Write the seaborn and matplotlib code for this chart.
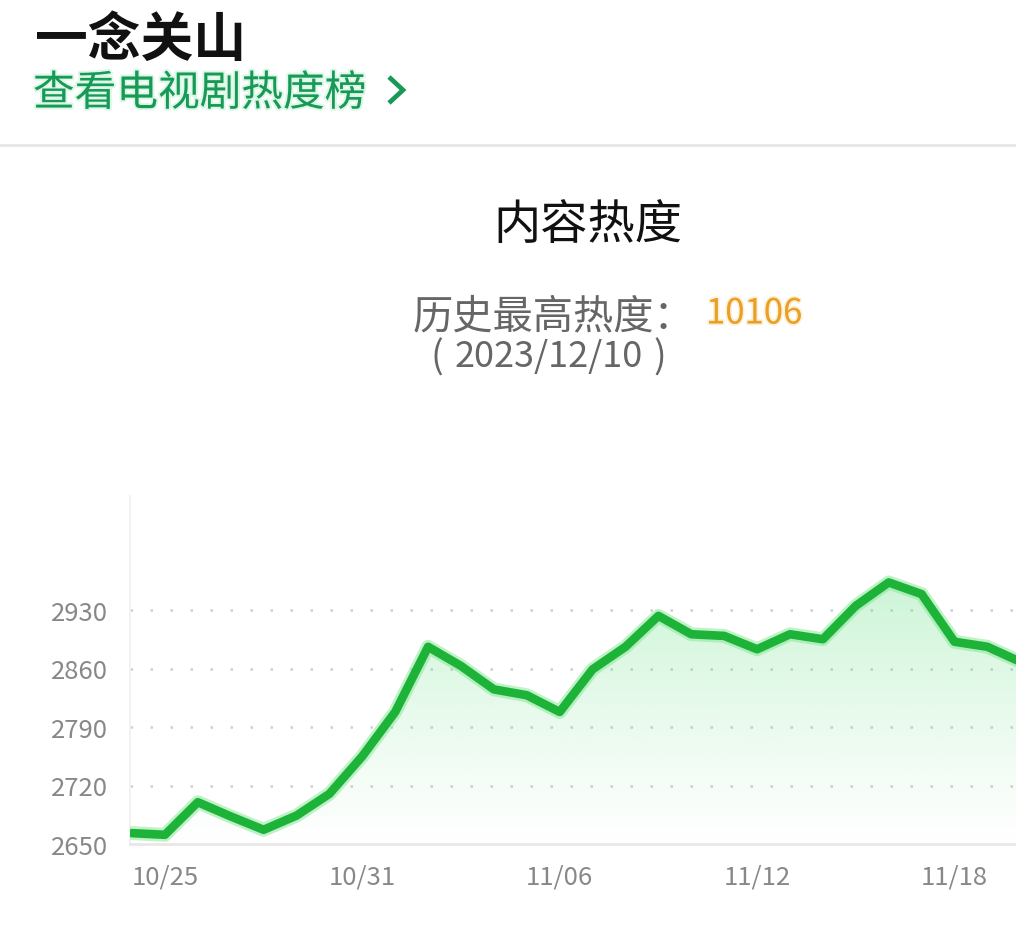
import numpy as np
import matplotlib
matplotlib.use("Agg")
import matplotlib.pyplot as plt
import matplotlib.patheffects as pe
from matplotlib.lines import Line2D
from matplotlib.patches import Polygon
import pandas as pd
import seaborn as sns

# Daily content heat, 10/24 – 11/20
dates = ["10/24", "10/25", "10/26", "10/27", "10/28", "10/29", "10/30", "10/31",
         "11/01", "11/02", "11/03", "11/04", "11/05", "11/06", "11/07", "11/08",
         "11/09", "11/10", "11/11", "11/12", "11/13", "11/14", "11/15", "11/16",
         "11/17", "11/18", "11/19", "11/20"]
heat = [2663, 2661, 2700, 2683, 2667, 2684, 2710, 2755,
        2808, 2886, 2863, 2835, 2828, 2808, 2859, 2886,
        2923, 2901, 2899, 2883, 2901, 2895, 2935, 2963,
        2949, 2892, 2886, 2868]
y_ticks = [2650, 2720, 2790, 2860, 2930]
x_tick_labels = ["10/25", "10/31", "11/06", "11/12", "11/18"]

show_name = "一念关山"
rank_link = "查看电视剧热度榜"
chart_title = "内容热度"
peak_label = "历史最高热度："
peak_value = "10106"
peak_date = "2023/12/10"

df = pd.DataFrame({"date": dates, "heat": heat})
df["day"] = np.arange(len(df))

sns.set_theme(style="white")
plt.rcParams["font.family"] = ["Noto Sans CJK SC", "DejaVu Sans"]

W, H = 1016, 928
fig = plt.figure(figsize=(W / 100, H / 100), dpi=100)
fig.patch.set_facecolor("white")


def fx(px):
    return px / W


def fy(py):
    return 1 - py / H


# plot area in pixel terms
ax_l, ax_r, ax_t, ax_b = 130, 1016, 497, 845
ax = fig.add_axes([fx(ax_l), fy(ax_b), fx(ax_r - ax_l), (ax_b - ax_t) / H])
ax.set_facecolor("white")

px_per_day = 32.9
x0 = -2 / px_per_day
x1 = x0 + (ax_r - ax_l) / px_per_day
ymin = 2650
ymax = ymin + (ax_b - ax_t) / 58.5 * 70
ax.set_xlim(x0, x1)
ax.set_ylim(ymin, ymax)

# gradient area under the curve
grad_top = max(heat)
n = 256
alpha = np.linspace(0.0, 0.36, n) ** 1.1
rgba = np.zeros((n, 1, 4))
rgba[..., 0] = 0.40
rgba[..., 1] = 0.88
rgba[..., 2] = 0.52
rgba[..., 3] = alpha[:, None]
img = ax.imshow(rgba, extent=[x0, x1, ymin, grad_top], origin="lower",
                aspect="auto", interpolation="bicubic", zorder=1)
verts = [(df["day"].iloc[0], ymin)] + list(zip(df["day"], df["heat"])) + [(df["day"].iloc[-1], ymin)]
clip = Polygon(verts, closed=True, transform=ax.transData, facecolor="none", edgecolor="none")
ax.add_patch(clip)
img.set_clip_path(clip)

# dotted grid lines
for v in y_ticks[1:]:
    ax.axhline(v, color="#cfcfcf", lw=1.8, ls=(0, (1, 7)), zorder=0.5)

sns.lineplot(data=df, x="day", y="heat", ax=ax, color="#1db339", lw=6.2,
             solid_joinstyle="round", solid_capstyle="round", zorder=3,
             path_effects=[pe.Stroke(linewidth=10, foreground="#8be89a", alpha=0.55),
                           pe.Normal()])

ax.set_xlabel("")
ax.set_ylabel("")
ax.set_yticks(y_ticks)
ax.set_yticklabels([str(v) for v in y_ticks])
tick_pos = [dates.index(t) for t in x_tick_labels]
ax.set_xticks(tick_pos)
ax.set_xticklabels(x_tick_labels)
ax.tick_params(axis="both", length=0, labelsize=18.5, labelcolor="#888888")
ax.tick_params(axis="y", pad=16)
ax.tick_params(axis="x", pad=14)
for lab in ax.get_xticklabels() + ax.get_yticklabels():
    lab.set_fontweight("medium")

for s in ["top", "right"]:
    ax.spines[s].set_visible(False)
ax.spines["left"].set_color("#f0f0f0")
ax.spines["left"].set_linewidth(1.2)
ax.spines["bottom"].set_color("#e8e8e8")
ax.spines["bottom"].set_linewidth(2.0)

# header texts
fig.text(fx(35), fy(40), show_name, fontsize=38, fontweight="bold",
         color="#111111", va="center", ha="left")
fig.text(fx(33), fy(95), rank_link, fontsize=30, fontweight="medium", color="#169a56",
         va="center", ha="left",
         path_effects=[pe.withStroke(linewidth=3, foreground="#c9f2d9", alpha=0.6)])
fig.add_artist(Line2D([fx(389), fx(403), fx(389)], [fy(78), fy(91), fy(104)],
                      transform=fig.transFigure, color="#169a56", lw=3.4,
                      solid_joinstyle="miter", solid_capstyle="butt"))
fig.add_artist(Line2D([0, 1], [fy(146), fy(146)], transform=fig.transFigure,
                      color="#e6e6e6", lw=2))

fig.text(fx(588), fy(226), chart_title, fontsize=34, color="#111111",
         va="center", ha="center")
fig.text(fx(413), fy(317), peak_label, fontsize=29, color="#666666",
         va="center", ha="left")
fig.text(fx(706), fy(315), peak_value, fontsize=25, color="#e9a024",
         va="center", ha="left",
         path_effects=[pe.withStroke(linewidth=2.5, foreground="#fbe6bf", alpha=0.6)])
# date of the peak, with the brackets set apart
fig.text(fx(430), fy(358), "(", fontsize=27, color="#666666", va="center", ha="left")
fig.text(fx(455), fy(357), peak_date, fontsize=26, color="#666666", va="center", ha="left")
fig.text(fx(666), fy(358), ")", fontsize=27, color="#666666", va="center", ha="right")

fig.savefig("out.png", dpi=100, facecolor="white")
